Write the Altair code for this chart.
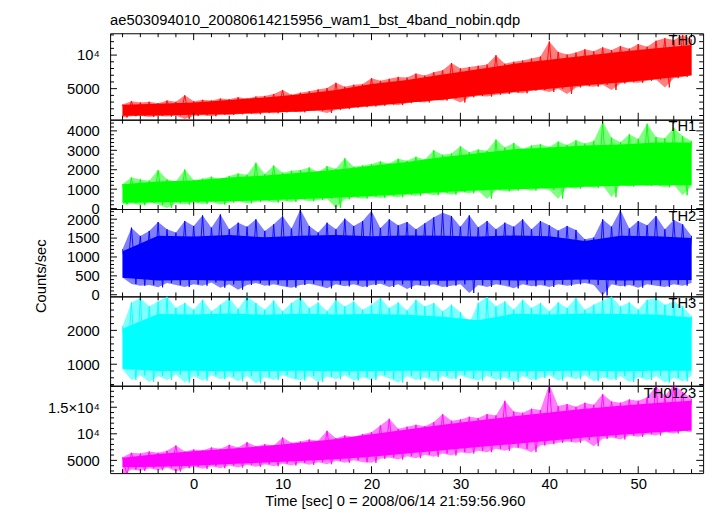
import altair as alt
import pandas as pd

FONT = "Liberation Sans"
TITLE = "ae503094010_20080614215956_wam1_bst_4band_nobin.qdp"
XTITLE = "Time [sec] 0 = 2008/06/14 21:59:56.960"
YTITLE = "Counts/sec"

# time samples (sec) of the read-off envelopes
T = list(range(-8, 57))
T_CORE = list(range(-8, 57, 4))

# ---- TH0 (red)
th0_hi = [2640, 3130, 2940, 3040, 2840, 3230, 3040, 4010, 3130, 3330, 3230, 3520, 3430, 3720, 3520, 3820,
          3920, 4210, 4800, 4110, 4400, 4600, 4890, 5090, 5870, 5290, 5580, 5680, 6560, 6170, 6460, 6750,
          6650, 7240, 6950, 7440, 7730, 8810, 8020, 8220, 8410, 8600, 9980, 8710, 9000, 9200, 9490, 9780,
          12030, 10470, 10080, 10370, 10860, 10570, 11150, 10760, 11350, 10960, 11640, 11250, 12130, 12520,
          12230, 13010, 12330]
th0_lo = [690, 880, 980, 790, 930, 840, 980, 490, 930, 1030, 880, 1130, 1080, 1180, 1280, 1180, 1370, 1320,
          1470, 1570, 1470, 1760, 1670, 1370, 1860, 1960, 2160, 2250, 2350, 2450, 2640, 2550, 2840, 3040, 2940,
          3330, 3230, 3520, 2940, 3720, 3920, 3820, 4110, 4210, 4410, 4310, 4700, 4800, 4500, 4990, 4210, 5190,
          5380, 5290, 5580, 4800, 5770, 5970, 5870, 6170, 6360, 5190, 6560, 6750, 6950]
th0_core_hi = [2600, 2750, 2950, 3300, 3700, 4150, 4800, 5700, 6300, 7100, 7900, 8700, 9300, 9900, 10500, 11000, 11500]
th0_core_lo = [950, 1000, 1100, 1200, 1450, 1600, 1950, 2450, 2900, 3350, 4000, 4500, 5000, 5500, 5900, 6400, 7000]

# ---- TH1 (green)
th1_hi = [1265, 1606, 1504, 1436, 1982, 1504, 1401, 2016, 1470, 1538, 1640, 1504, 1674, 1811, 1743, 2357,
          1777, 2220, 1845, 1947, 1982, 2118, 1879, 2186, 2050, 2596, 2152, 2220, 2289, 2425, 2323, 2562,
          2459, 2664, 2527, 3005, 2766, 2835, 3210, 2903, 3039, 2971, 3551, 3142, 3380, 3073, 3244, 3312,
          3176, 3449, 3278, 3517, 3346, 3483, 4472, 3653, 3415, 3824, 3585, 4370, 3688, 3619, 4165, 3722, 3483]
th1_lo = [207, 275, 173, 310, 207, 37, 275, 207, 310, 241, 344, 207, 310, 378, 275, 344, 412, 310,
          412, 344, 480, 378, 446, 514, 37, 480, 583, 514, 617, 549, 651, 583, 719, 651, 787, 685, 821, 719,
          856, 787, 924, 514, 958, 890, 924, 1026, 924, 1060, 958, 514, 1094, 1026, 1163, 1060, 1197, 583,
          1231, 1129, 1265, 1163, 1197, 1094, 1231, 685, 1163]
th1_core_hi = [1250, 1400, 1450, 1600, 1700, 1850, 2000, 2200, 2400, 2650, 2850, 3050, 3150, 3250, 3300, 3400, 3400]
th1_core_lo = [300, 330, 350, 380, 430, 500, 560, 650, 750, 850, 950, 1000, 1050, 1120, 1180, 1200, 1200]

# ---- TH2 (blue)
th2_hi = [1206, 1777, 1557, 1689, 1926, 1733, 1645, 1953, 1821, 2102, 1777, 2128, 1733, 1909, 1803, 1997,
          1689, 1865, 2084, 1751, 2260, 1821, 1645, 1909, 1733, 2014, 1821, 1953, 2225, 1768, 1997, 1838,
          1926, 1733, 1891, 2049, 2172, 2084, 1803, 2102, 1786, 1953, 1733, 1909, 1803, 1997, 1733, 1953,
          1838, 1698, 1821, 1716, 1470, 1513, 1997, 1803, 2243, 1751, 1953, 1838, 2084, 1733, 1979, 1865, 1557]
th2_lo = [459, 284, 240, 257, 196, 310, 257, 205, 275, 240, 327, 187, 275, 134, 257, 310, 240, 275,
          222, 187, 257, 292, 240, 169, 275, 222, 275, 205, 257, 292, 205, 275, 152, 257, 222, 275, 205, 240,
          275, 46, 257, 205, 275, 240, 169, 275, 222, 257, 205, 275, 240, 275, 310, 257, -20, 275, 222, 257,
          187, 275, 240, 205, 275, 240, 310]
th2_core_hi = [1150, 1560, 1540, 1580, 1520, 1560, 1580, 1550, 1570, 1560, 1540, 1570, 1550, 1420, 1560, 1550, 1500]
th2_core_lo = [450, 380, 390, 370, 380, 390, 370, 380, 375, 370, 390, 380, 385, 400, 380, 385, 390]

# ---- TH3 (cyan)
th3_hi = [2121, 2825, 2952, 2708, 2855, 3001, 2659, 2806, 2610, 2903, 2561, 2757, 2952, 2630, 3001, 2806,
          2610, 2884, 2561, 2806, 2982, 2659, 2825, 2561, 2903, 2708, 2855, 2610, 2757, 2952, 2659, 2825,
          2590, 2903, 2708, 2806, 2561, 2757, 2532, 2219, 2806, 2982, 2708, 2855, 2610, 2903, 2659, 2806,
          2561, 2825, 2659, 2952, 2610, 2757, 2884, 3001, 2708, 2825, 2610, 2903, 2952, 2757, 2855, 2708, 2414]
th3_lo = [850, 537, 674, 478, 654, 537, 693, 458, 654, 517, 674, 556, 634, 497, 654, 439, 615, 537,
          674, 576, 517, 654, 478, 634, 556, 674, 517, 615, 537, 674, 576, 458, 654, 537, 615, 497, 654, 556,
          674, 576, 517, 654, 537, 615, 478, 654, 537, 595, 674, 517, 634, 556, 674, 497, 615, 537, 654, 478,
          615, 537, 654, 458, 595, 497, 654]
th3_core_hi = [2050, 2480, 2470, 2500, 2460, 2490, 2470, 2480, 2460, 2400, 2300, 2490, 2470, 2500, 2480, 2470, 2380]
th3_core_lo = [870, 800, 810, 790, 800, 805, 795, 800, 810, 800, 805, 795, 800, 810, 795, 805, 810]

# ---- TH0123 (magenta)
th5_hi = [5600, 6417, 6291, 6668, 6417, 6794, 7800, 6668, 7045, 6920, 7423, 7171, 7925, 7423, 8428, 7674,
          8051, 7800, 9308, 8302, 8554, 8931, 8680, 10565, 9183, 9685, 9434, 9937, 10314, 11571, 12828, 10942,
          11320, 11697, 11445, 12199, 13707, 12450, 12702, 13205, 12953, 13707, 13456, 16221, 14210, 13959,
          14713, 14462, 19364, 15216, 15593, 15090, 15844, 15467, 17478, 16096, 15844, 16473, 16221, 16850,
          18987, 17101, 19238, 17856, 16599]
th5_lo = [2269, 3274, 3023, 3526, 3149, 3651, 2897, 3526, 3777, 3400, 3903, 3526, 4028, 3651, 4154, 3777,
          4280, 3903, 4405, 4028, 4531, 4154, 4657, 4280, 4908, 4531, 5034, 4657, 4531, 5286, 5537, 5160,
          5789, 5411, 6040, 5663, 6291, 5914, 6543, 6291, 6794, 6543, 7171, 6794, 7423, 7171, 6543, 7800,
          8051, 8302, 8554, 8302, 8805, 7674, 9057, 9308, 8931, 9685, 9434, 9937, 9685, 10314, 10063, 10565, 10314]
th5_core_hi = [5500, 6200, 6700, 7200, 7700, 8300, 9000, 9900, 10800, 11700, 12500, 13300, 14000, 14700, 15300, 15800, 16200]
th5_core_lo = [3700, 3800, 4000, 4300, 4600, 4900, 5200, 5700, 6300, 6900, 7500, 8100, 8700, 9300, 9800, 10300, 10600]

XDOM = [-9.4, 57.3]
X_MAJOR = [0, 10, 20, 30, 40, 50]
X_MINOR = [v for v in range(-8, 57, 2) if v % 10 != 0]

W = 604
MAJ, MIN = 7, 4


def panel(name, color, hi, lo, chi, clo, ydom, ymaj, ymin, height, label_expr,
          bottom=False, ytitle=None, title=None):
    xs = alt.Scale(domain=XDOM, nice=False, zero=False)
    ys = alt.Scale(domain=ydom, nice=False, zero=False)
    outer = pd.DataFrame({"t": T, "hi": hi, "lo": lo})
    core = pd.DataFrame({"t": T_CORE, "hi": chi, "lo": clo})
    # zig-zag trace: each read-off peak at t, the following trough half a second later
    zz = pd.DataFrame({"t": T + [t + 0.5 for t in T[:-1]], "v": hi + lo[:-1]}).sort_values("t")

    l_outer = alt.Chart(outer).mark_area(color=color, opacity=0.5, clip=True).encode(
        x=alt.X("t:Q", scale=xs, axis=None),
        y=alt.Y("hi:Q", scale=ys, axis=None), y2="lo:Q")
    l_core = alt.Chart(core).mark_area(color=color, opacity=1, clip=True).encode(
        x=alt.X("t:Q", scale=xs, axis=None),
        y=alt.Y("hi:Q", scale=ys, axis=None), y2="lo:Q")
    l_zz = alt.Chart(zz).mark_line(color=color, strokeWidth=1, opacity=0.9, clip=True).encode(
        x=alt.X("t:Q", scale=xs, axis=None),
        y=alt.Y("v:Q", scale=ys, axis=None), order="t:Q")

    # axis labels / titles (ticks are drawn below as inward rules)
    yax = dict(orient="left", values=ymaj, ticks=False, tickSize=0, domain=False, grid=False,
               labelFont=FONT, labelFontSize=15, labelColor="black", labelPadding=11,
               labelOverlap=False, labelExpr=label_expr, title=ytitle)
    if ytitle:
        yax.update(titleFont=FONT, titleFontSize=15, titleFontWeight="normal", titleColor="black",
                   titleX=-63, titleY=68)
    if bottom:
        xa = alt.Axis(orient="bottom", values=X_MAJOR, ticks=False, tickSize=0, domain=False, grid=False,
                      labelFont=FONT, labelFontSize=15, labelColor="black", labelPadding=4,
                      labelOverlap=False, labelFlush=False, format="d", title=XTITLE,
                      titleFont=FONT, titleFontSize=15, titleFontWeight="normal", titleColor="black",
                      titleX=290, titleAlign="center", titlePadding=2)
    else:
        xa = None
    dummy = pd.DataFrame({"t": [0], "v": [ydom[0]]})
    a1 = alt.Chart(dummy).mark_point(opacity=0).encode(
        x=alt.X("t:Q", scale=xs, axis=xa), y=alt.Y("v:Q", scale=ys, axis=alt.Axis(**yax)))

    ticks = []
    for vals, L in ((ymaj, MAJ), (ymin, MIN)):
        d = pd.DataFrame({"v": vals})
        base = alt.Chart(d).mark_rule(color="black", strokeWidth=1)
        ticks.append(base.encode(y=alt.Y("v:Q", scale=ys, axis=None), x=alt.value(0), x2=alt.value(L)))
        ticks.append(base.encode(y=alt.Y("v:Q", scale=ys, axis=None), x=alt.value(W - L), x2=alt.value(W)))
    for vals, L in ((X_MAJOR, MAJ), (X_MINOR, MIN)):
        d = pd.DataFrame({"t": vals})
        base = alt.Chart(d).mark_rule(color="black", strokeWidth=1)
        ticks.append(base.encode(x=alt.X("t:Q", scale=xs, axis=None), y=alt.value(0), y2=alt.value(L)))
        ticks.append(base.encode(x=alt.X("t:Q", scale=xs, axis=None), y=alt.value(height - L),
                                 y2=alt.value(height)))

    lab = alt.Chart(pd.DataFrame({"label": [name]})).mark_text(
        align="right", baseline="top", font=FONT, fontSize=15, color="black").encode(
        x=alt.value(W - 7), y=alt.value(0), text="label:N")

    ch = alt.layer(a1, l_outer, l_core, l_zz, *ticks, lab).resolve_axis(x="independent", y="independent")
    props = dict(width=W, height=height)
    if title:
        props["title"] = alt.TitleParams(title, anchor="start", frame="group", font=FONT, fontSize=15,
                                         fontWeight="normal", color="black", offset=5)
    return ch.properties(**props)


DEF = "format(datum.value, 'd')"
p1 = panel("TH0", "#ff0000", th0_hi, th0_lo, th0_core_hi, th0_core_lo, [380, 13250],
           [5000, 10000], [v for v in range(1000, 13001, 1000) if v % 5000 != 0], 88,
           "datum.value == 10000 ? '10⁴' : " + DEF, title=TITLE)
p2 = panel("TH1", "#00ff00", th1_hi, th1_lo, th1_core_hi, th1_core_lo, [-20, 4576],
           [0, 1000, 2000, 3000, 4000], [v for v in range(200, 4501, 200) if v % 1000 != 0], 91, DEF)
p3 = panel("TH2", "#0000ff", th2_hi, th2_lo, th2_core_hi, th2_core_lo, [-44, 2270],
           [0, 500, 1000, 1500, 2000], [v for v in range(100, 2201, 100) if v % 500 != 0], 89, DEF,
           ytitle=YTITLE)
p4 = panel("TH3", "#00ffff", th3_hi, th3_lo, th3_core_hi, th3_core_lo, [365, 3003],
           [1000, 2000], [v for v in range(400, 2901, 200) if v % 1000 != 0], 91, DEF)
p5 = panel("TH0123", "#ff00ff", th5_hi, th5_lo, th5_core_hi, th5_core_lo, [2600, 19050],
           [5000, 10000, 15000], [v for v in range(3000, 19001, 1000) if v % 5000 != 0], 89,
           "datum.value == 15000 ? '1.5×10⁴' : datum.value == 10000 ? '10⁴' : " + DEF, bottom=True)

chart = alt.vconcat(p1, p2, p3, p4, p5, spacing=0, bounds="flush").properties(
    padding={"left": 25, "top": 0, "right": 5, "bottom": 5}
).configure_view(stroke="black", strokeWidth=1)

chart.save("out.html", embed_options={"renderer": "svg", "actions": False})
